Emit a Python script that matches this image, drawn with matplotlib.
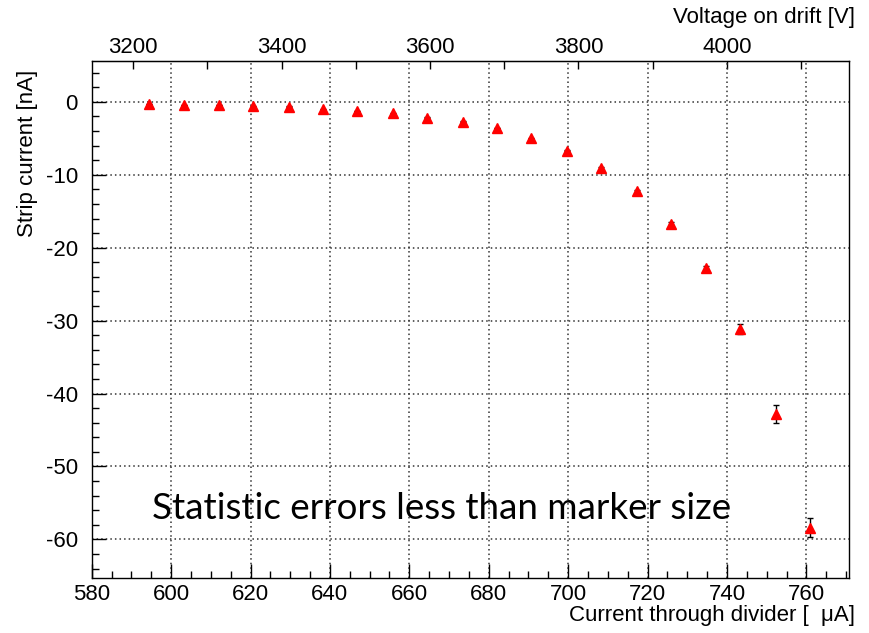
import matplotlib
matplotlib.use("Agg")
import matplotlib.pyplot as plt
from matplotlib.ticker import MultipleLocator, FixedLocator, FuncFormatter

# data
current_ua = [594.5, 603.2, 612.0, 620.7, 629.7, 638.2, 646.9, 655.8, 664.5, 673.5,
              682.0, 690.6, 699.7, 708.2, 717.3, 725.8, 734.7, 743.3, 752.3, 760.9]
strip_na = [-0.3, -0.45, -0.45, -0.6, -0.65, -1.0, -1.25, -1.55, -2.15, -2.7,
            -3.6, -5.0, -6.7, -9.1, -12.2, -16.7, -22.8, -31.2, -42.8, -58.4]
strip_err = [0.05, 0.05, 0.05, 0.05, 0.05, 0.05, 0.05, 0.05, 0.05, 0.05,
             0.05, 0.1, 0.1, 0.1, 0.15, 0.2, 0.25, 0.7, 1.2, 1.3]

voltage_ticks = [3200, 3300, 3400, 3500, 3600, 3700, 3800, 3900, 4000, 4100]

# linear map current -> drift voltage
V_SLOPE = 5.349
V_OFFSET = 41.8

plt.rcParams["font.family"] = ["Liberation Sans", "DejaVu Sans"]
plt.rcParams["axes.unicode_minus"] = False

fig = plt.figure(figsize=(8.69, 6.33), dpi=100)
ax = fig.add_axes([0.1055, 0.0869, 0.8718, 0.8167])

ax.errorbar(current_ua, strip_na, yerr=strip_err, fmt="none", ecolor="black",
            elinewidth=1, capsize=2.5, capthick=1, zorder=3)
ax.plot(current_ua, strip_na, linestyle="none", marker="^", color="red",
        markersize=7.5, zorder=4)

ax.set_xlim(580, 770.8)
ax.set_ylim(-65.3, 5.6)

ax.xaxis.set_major_locator(MultipleLocator(20))
ax.xaxis.set_minor_locator(MultipleLocator(5))
ax.yaxis.set_major_locator(MultipleLocator(10))
ax.yaxis.set_minor_locator(MultipleLocator(2))

ax.grid(True, which="major", color="0.2", linestyle=(0, (1, 2)), linewidth=1.1)
ax.tick_params(axis="both", which="both", direction="in", top=False, right=False,
               labelsize=16, width=1)
ax.tick_params(axis="x", which="major", length=10, pad=4)
ax.tick_params(axis="x", which="minor", length=5)
ax.tick_params(axis="y", which="major", length=10, pad=10)
ax.tick_params(axis="y", which="minor", length=5)

for spine in ax.spines.values():
    spine.set_linewidth(1)

ax.set_xlabel("Current through divider [  \u03bcA]", fontsize=16, loc="right")
ax.xaxis.set_label_coords(1.0075, -0.052)
ax.set_ylabel("Strip current [nA]", fontsize=16, loc="top")
ax.yaxis.set_label_coords(-0.071, 0.983)

sec = ax.secondary_xaxis("top", functions=(lambda i: V_SLOPE * i + V_OFFSET,
                                           lambda v: (v - V_OFFSET) / V_SLOPE))
sec.xaxis.set_major_locator(FixedLocator(voltage_ticks))
sec.xaxis.set_major_formatter(FuncFormatter(lambda v, p: f"{v:.0f}" if round(v) % 200 == 0 else ""))
sec.tick_params(axis="x", direction="in", length=5.5, labelsize=16, pad=2.5, width=1)

fig.text(0.984, 0.9716, "Voltage on drift [V]", fontsize=16, ha="right", va="center")

fig.text(0.175, 0.197, "Statistic errors less than marker size", fontsize=26.5,
         family=["Lato", "DejaVu Sans"], va="center", ha="left")

fig.savefig("out.png", dpi=100)
